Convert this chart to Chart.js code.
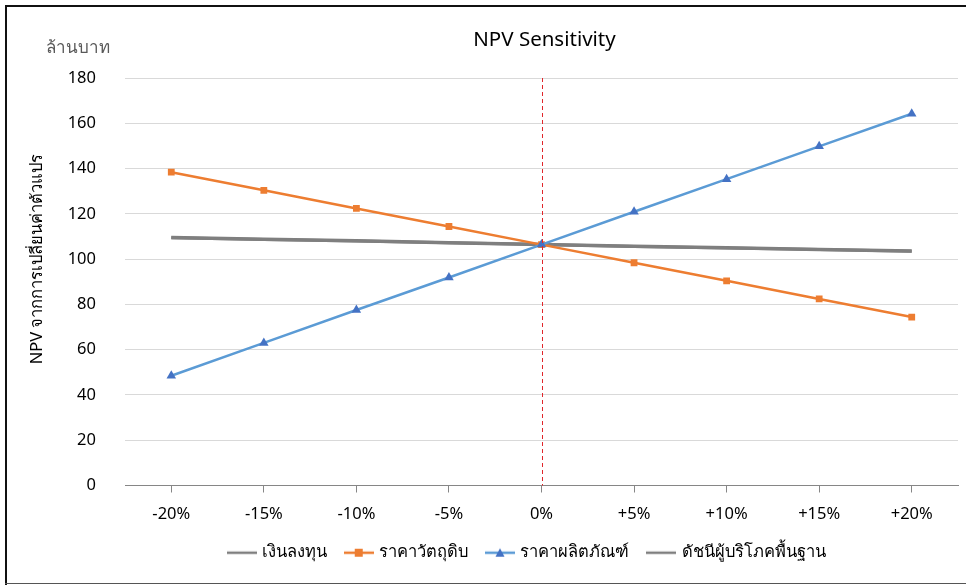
<!DOCTYPE html>
<html>
<head>
<meta charset="utf-8">
<script src="https://cdn.jsdelivr.net/npm/chart.js@4/dist/chart.umd.min.js"></script>
<style>
  html, body { margin: 0; padding: 0; background: #ffffff; }
  #wrap { position: relative; width: 966px; height: 585px; }
</style>
</head>
<body>
<div id="wrap"><canvas id="npv" width="966" height="585"></canvas></div>
<script>
// Sensitivity steps applied to each variable
const categories = ['-20%', '-15%', '-10%', '-5%', '0%', '+5%', '+10%', '+15%', '+20%'];

// NPV (million baht) for each variable at each step
const investment   = [109.5, 108.8, 108.1, 107.2, 106.4, 105.7, 105.0, 104.3, 103.6];
const rawMaterial  = [138.4, 130.4, 122.4, 114.4, 106.4, 98.4, 90.4, 82.4, 74.4];
const productPrice = [48.5, 63.0, 77.5, 91.9, 106.4, 120.9, 135.3, 149.8, 164.2];
const cpiIndex     = [109.4, 108.7, 108.0, 107.2, 106.4, 105.6, 104.9, 104.2, 103.5];

const seriesNames = ['เงินลงทุน', 'ราคาวัตถุดิบ', 'ราคาผลิตภัณฑ์', 'ดัชนีผู้บริโภคพื้นฐาน'];

const yTicks = [0, 20, 40, 60, 80, 100, 120, 140, 160, 180];

const FONT = "Tahoma, 'Noto Sans', 'DejaVu Sans', sans-serif";

// Legend icon: a short line with an optional marker in the middle
function legendIcon(lineColor, marker, markerColor) {
  const c = document.createElement('canvas');
  c.width = 30; c.height = 12;
  const g = c.getContext('2d');
  g.strokeStyle = lineColor;
  g.lineWidth = 2.5;
  g.beginPath(); g.moveTo(0, 6); g.lineTo(30, 6); g.stroke();
  g.fillStyle = markerColor;
  if (marker === 'rect') {
    g.fillRect(11, 2, 8, 8);
  } else if (marker === 'triangle') {
    g.beginPath(); g.moveTo(15, 1.5); g.lineTo(19.5, 10); g.lineTo(10.5, 10); g.closePath(); g.fill();
  }
  return c;
}

const icons = [
  legendIcon('#7f7f7f', null, null),
  legendIcon('#ed7d31', 'rect', '#ed7d31'),
  legendIcon('#5b9bd5', 'triangle', '#4472c4'),
  legendIcon('#7f7f7f', null, null)
];

// Centre the legend row under the plot rather than under the whole canvas
const legendShift = {
  id: 'legendShift',
  afterLayout(chart) {
    const lg = chart.legend;
    if (!lg) return;
    const target = (chart.chartArea.left + chart.chartArea.right) / 2 - 14;
    const dx = target - (lg.left + lg.right) / 2;
    lg.left += dx;
    lg.right += dx;
  }
};

// Frame, title, unit label, rotated axis title and the dashed base-case line
const decorations = {
  id: 'decorations',
  beforeDraw(chart) {
    const ctx = chart.ctx;
    ctx.save();
    ctx.fillStyle = '#ffffff';
    ctx.fillRect(0, 0, chart.width, chart.height);
    ctx.restore();
  },
  afterDatasetsDraw(chart) {
    const ctx = chart.ctx;
    const x = chart.scales.x.getPixelForValue(4);
    const { top, bottom } = chart.chartArea;
    ctx.save();
    ctx.strokeStyle = '#e0262b';
    ctx.lineWidth = 1;
    ctx.setLineDash([4, 3]);
    ctx.beginPath();
    ctx.moveTo(Math.round(x) + 0.5, top);
    ctx.lineTo(Math.round(x) + 0.5, bottom);
    ctx.stroke();
    ctx.restore();
  },
  afterDraw(chart) {
    const ctx = chart.ctx;
    const area = chart.chartArea;
    ctx.save();
    // frame
    ctx.fillStyle = '#111111';
    ctx.fillRect(5, 5, chart.width - 5, 2);
    ctx.fillRect(5, 5, 2, chart.height - 5);
    ctx.fillStyle = '#555555';
    ctx.fillRect(5, chart.height - 2, chart.width - 5, 1);

    // title
    ctx.fillStyle = '#000000';
    ctx.font = "20.5px " + FONT;
    ctx.textAlign = 'center';
    ctx.textBaseline = 'middle';
    ctx.fillText('NPV Sensitivity', (area.left + area.right) / 2 + 3, 40);

    // unit
    ctx.fillStyle = '#595959';
    ctx.font = "17px " + FONT;
    ctx.textAlign = 'left';
    ctx.fillText('ล้านบาท', 46, 48);

    // y-axis title
    ctx.fillStyle = '#000000';
    ctx.font = "16.5px " + FONT;
    ctx.translate(37, 259);
    ctx.rotate(-Math.PI / 2);
    ctx.textAlign = 'center';
    ctx.fillText('NPV จากการเปลี่ยนค่าตัวแปร', 0, 0);
    ctx.restore();
  }
};

new Chart(document.getElementById('npv'), {
  type: 'line',
  data: {
    labels: categories,
    datasets: [
      {
        label: seriesNames[0], data: investment,
        borderColor: '#7f7f7f', backgroundColor: '#7f7f7f',
        borderWidth: 3.5, pointRadius: 0, order: 3
      },
      {
        label: seriesNames[1], data: rawMaterial,
        borderColor: '#ed7d31', backgroundColor: '#ed7d31',
        borderWidth: 2.5, pointStyle: 'rect', pointRadius: 4.8,
        pointBorderWidth: 0, order: 1
      },
      {
        label: seriesNames[2], data: productPrice,
        borderColor: '#5b9bd5', backgroundColor: '#4472c4',
        borderWidth: 2.5, pointStyle: 'triangle', pointRadius: 5.5,
        pointBorderWidth: 0, order: 0
      },
      {
        label: seriesNames[3], data: cpiIndex,
        borderColor: '#7f7f7f', backgroundColor: '#7f7f7f',
        borderWidth: 3, pointRadius: 0, order: 2
      }
    ]
  },
  options: {
    responsive: false,
    animation: false,
    devicePixelRatio: 1,
    layout: { padding: { left: 60, right: 8, top: 78, bottom: 14 } },
    elements: { line: { tension: 0 } },
    plugins: {
      title: { display: false },
      tooltip: { enabled: false },
      legend: {
        position: 'bottom',
        labels: {
          usePointStyle: true,
          pointStyleWidth: 24,
          padding: 20,
          color: '#000000',
          font: { family: FONT, size: 16.5 },
          generateLabels(chart) {
            return chart.data.datasets.map((ds, i) => ({
              text: ds.label,
              pointStyle: icons[i],
              fillStyle: ds.borderColor,
              strokeStyle: ds.borderColor,
              lineWidth: 0,
              hidden: false,
              datasetIndex: i,
              fontColor: '#000000'
            }));
          }
        }
      }
    },
    scales: {
      x: {
        offset: true,
        afterFit(scale) { scale.height = 39; },
        grid: {
          offset: false,
          drawOnChartArea: false,
          drawTicks: true,
          tickLength: 7,
          color: '#868686'
        },
        border: { display: true, color: '#868686', width: 1 },
        ticks: {
          color: '#000000',
          padding: 12,
          maxRotation: 0,
          font: { family: FONT, size: 16.5 }
        }
      },
      y: {
        min: 0,
        max: 180,
        afterFit(scale) { scale.width = 65; },
        afterBuildTicks(scale) { scale.ticks = yTicks.map(v => ({ value: v })); },
        grid: { color: '#d9d9d9', lineWidth: 1, drawTicks: false },
        border: { display: false },
        ticks: {
          color: '#000000',
          padding: 29,
          font: { family: FONT, size: 16.5 }
        }
      }
    }
  },
  plugins: [legendShift, decorations]
});
</script>
</body>
</html>
